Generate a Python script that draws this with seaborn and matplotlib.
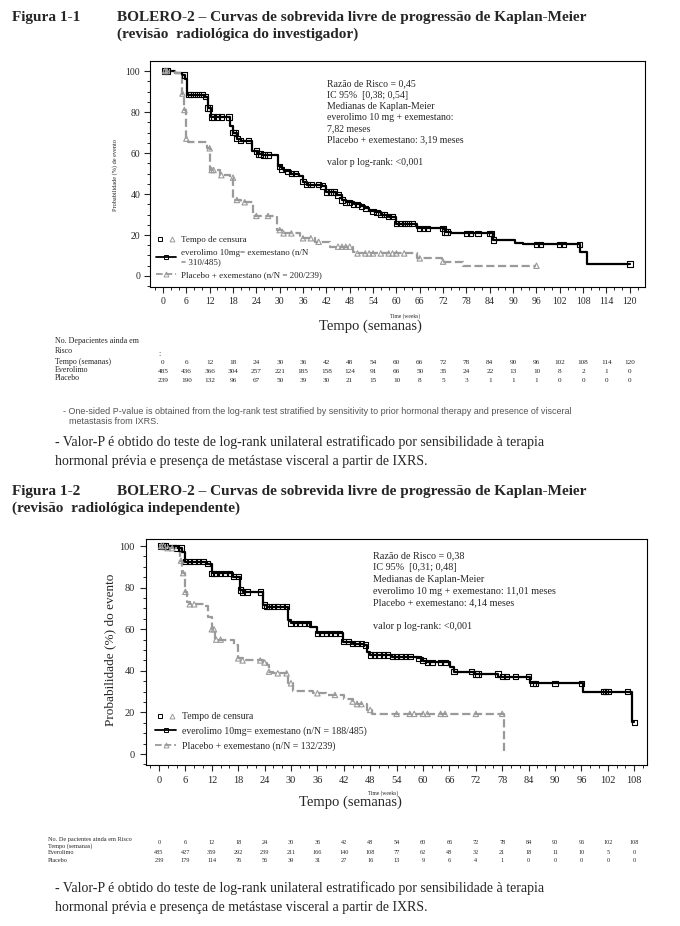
import numpy as np
import pandas as pd
import matplotlib
matplotlib.use("Agg")
import matplotlib.pyplot as plt
import seaborn as sns
from matplotlib.lines import Line2D
from matplotlib.legend_handler import HandlerTuple
from matplotlib.ticker import MultipleLocator
import matplotlib.transforms as mtransforms

# ---------------- data ----------------
# Figure 1-1 (investigator review)
top_evero_t = [0, 3, 5, 5.6, 6.2, 10.8, 11.5, 12.3, 17.2, 18, 19, 20, 23, 24.5, 25.5, 29.6, 30.5, 31,
               33, 35, 36, 37, 41, 42, 44.5, 46, 47, 49, 51, 52, 53, 54.5, 56, 58, 60, 65.2, 72.5, 74,
               84.9, 90.5, 92.6, 107.2, 108.9, 120]
top_evero_s = [100, 99, 98, 96, 88.5, 87.5, 82, 77.5, 73, 70, 67, 66, 61, 59.5, 59, 53.5, 52, 51,
               50, 49, 46, 44.5, 44, 41, 39.5, 37, 36, 35, 34, 33, 31.5, 31, 30, 29, 25.5, 23.2, 21.5, 20.8,
               17.6, 16.3, 15.4, 11.9, 5.9, 5.9]
top_evero_cens = [0.5, 1, 5.5, 6.5, 7, 8, 9, 10, 11, 11.5, 12, 12.5, 13, 14, 15, 17, 18, 18.5, 19, 20,
                  22, 24, 24.5, 25, 26, 27, 30, 30.5, 32, 33, 34, 36, 37, 38, 40, 41, 42, 43, 44, 45,
                  46, 47, 48, 49, 50, 51, 52, 54, 55, 56, 57, 58, 59, 60, 61, 62, 63, 64, 66, 67, 68,
                  72, 72.5, 73, 78, 79, 81, 84, 84.5, 85, 96, 97, 102, 103, 107, 120]
top_plac_t = [0, 3, 4.8, 5.3, 5.8, 6.5, 11.2, 12.1, 14.6, 17.2, 18.1, 20, 23.2, 29.2, 31, 35.2, 39,
              42.9, 48.9, 50, 65.2, 71.6, 77.2, 96]
top_plac_s = [100, 99, 89, 81, 67, 65.5, 62.3, 51.7, 49.2, 48, 37.1, 36, 29.3, 22.4, 20.8, 18.4, 16.7,
              14.3, 11.9, 11, 8.6, 7, 5, 5]
top_plac_cens = [0.5, 1, 5, 5.5, 6, 12, 12.5, 13, 15, 18, 19, 21, 24, 27, 30, 31, 33, 36, 38, 40, 45,
                 46, 47, 48, 50, 52, 53, 54, 56, 58, 59, 60, 62, 66, 72, 96]
top_weeks = [0, 6, 12, 18, 24, 30, 36, 42, 48, 54, 60, 66, 72, 78, 84, 90, 96, 102, 108, 114, 120]
top_risk_evero = [485, 436, 366, 304, 257, 221, 185, 158, 124, 91, 66, 50, 35, 24, 22, 13, 10, 8, 2, 1, 0]
top_risk_plac = [239, 190, 132, 96, 67, 50, 39, 30, 21, 15, 10, 8, 5, 3, 1, 1, 1, 0, 0, 0, 0]

# Figure 1-2 (independent review)
bot_evero_t = [0, 4, 5.2, 5.9, 10.8, 12, 16.9, 18.4, 19, 23.7, 24.5, 29.4, 30, 34.3, 36, 41.9, 44,
               46.5, 47.2, 48, 53, 58.9, 60, 61, 66.1, 67, 71.8, 77.1, 84.3, 96.4, 107.4, 108]
bot_evero_s = [100, 99, 97, 92.5, 91.5, 86.9, 85.3, 78.8, 78, 71.6, 70.8, 64.4, 62.8, 60.9, 58, 54, 53,
               52.4, 49.2, 47.6, 46.8, 46, 44.9, 44.1, 42, 39.6, 38.5, 37.2, 34, 30, 15.2, 15.2]
bot_evero_cens = [0.5, 1, 1.5, 4, 5, 6, 7, 8, 9, 10, 11, 12, 12.5, 13, 14, 15, 16, 17, 18, 18.5, 19,
                  20, 23, 24, 24.5, 25, 26, 27, 28, 29, 30, 31, 32, 33, 34, 36, 37, 38, 39, 40, 41, 42,
                  43, 44, 45, 46, 47, 48, 49, 50, 51, 52, 53, 54, 55, 56, 57, 59, 60, 61, 62, 64, 65,
                  67, 71, 72, 72.5, 77, 78, 79, 81, 84, 85, 85.5, 90, 96, 101, 101.5, 102, 106.5, 108]
bot_plac_t = [0, 1.75, 4, 4.8, 5.3, 5.9, 6.4, 7, 10.5, 11.2, 12, 12.7, 17, 18, 19, 23.7, 24.5, 25, 26,
              29.4, 30.5, 35.1, 38, 42, 44, 45, 47.3, 48.3, 78.3]
bot_plac_s = [100, 99, 98, 93, 87, 78, 73, 72, 71, 66, 60, 55, 52.4, 46, 45, 44, 43, 39.6, 38.8,
              34, 30.4, 29.2, 28.4, 26.3, 25.2, 24, 21.2, 19.3, 0]
bot_plac_cens = [0.5, 1, 2, 3, 5, 5.5, 6, 7, 8, 12, 12.5, 13, 14, 18, 19, 23, 24, 25, 27, 29, 30, 36,
                 40, 44, 45, 46, 48, 54, 57, 58, 60, 61, 64, 65, 72, 78]
bot_weeks = [0, 6, 12, 18, 24, 30, 36, 42, 48, 54, 60, 66, 72, 78, 84, 90, 96, 102, 108]
bot_risk_evero = [485, 427, 359, 292, 239, 211, 166, 140, 108, 77, 62, 48, 32, 21, 18, 11, 10, 5, 0]
bot_risk_plac = [239, 179, 114, 76, 56, 39, 31, 27, 16, 13, 9, 6, 4, 1, 0, 0, 0, 0, 0]

# ---------------- styling ----------------
sns.set_style("ticks")
plt.rcParams['font.family'] = ['Liberation Serif', 'DejaVu Serif']
plt.rcParams['axes.linewidth'] = 0.8

W, H = 680, 926
fig = plt.figure(figsize=(W / 100, H / 100), dpi=100)
fig.patch.set_facecolor("white")

BLACK = "#000000"
GRAY = "#9a9a9a"


def ftext(x, y, s, **kw):
    kw.setdefault("va", "center")
    kw.setdefault("ha", "left")
    fig.text(x / W, 1 - y / H, s, **kw)


def step_at(t, s, c):
    idx = np.searchsorted(np.asarray(t), c, side="right") - 1
    return np.asarray(s)[idx]


def km_panel(rect_px, xlim, ylim, xmax, curves, tick_fs, pad):
    l, t, r, b = rect_px
    ax = fig.add_axes([l / W, 1 - b / H, (r - l) / W, (b - t) / H])
    for (tt, ss, cens, color, ls, marker) in curves:
        df = pd.DataFrame({"t": tt, "s": ss})
        sns.lineplot(data=df, x="t", y="s", ax=ax, color=color, linestyle=ls, linewidth=1.6,
                     drawstyle="steps-post", estimator=None, sort=False)
        cdf = pd.DataFrame({"t": cens, "s": step_at(tt, ss, cens)})
        sns.scatterplot(data=cdf, x="t", y="s", ax=ax, marker=marker, s=15, color=color,
                        facecolor="none", edgecolor=color, linewidth=0.8, zorder=3)
    ax.set_xlim(*xlim)
    ax.set_ylim(*ylim)
    ax.set_xticks(np.arange(0, xmax + 1, 6))
    ax.set_yticks(np.arange(0, 101, 20))
    ax.xaxis.set_minor_locator(MultipleLocator(2))
    ax.yaxis.set_minor_locator(MultipleLocator(5))
    ax.tick_params(which="major", length=4, width=0.8, labelsize=tick_fs, direction="out", pad=pad)
    ax.tick_params(which="minor", length=2.5, width=0.7, direction="out")
    ax.set_xlabel("")
    ax.set_ylabel("")
    for sp in ax.spines.values():
        sp.set_visible(True)
        sp.set_color("black")
    return ax


def legend_for(ax, evero_label, plac_label, fs, anchor, spacing):
    cens_sq = Line2D([], [], ls="none", marker="s", ms=3.5, mfc="none", mec=BLACK, mew=0.7)
    cens_tr = Line2D([], [], ls="none", marker="^", ms=3.5, mfc="none", mec=GRAY, mew=0.7)
    h_ev = Line2D([], [], color=BLACK, lw=1.3, marker="s", ms=3.5, mfc="none", mec=BLACK, mew=0.7)
    h_pl = Line2D([], [], color=GRAY, lw=1.3, ls="--", marker="^", ms=3.5, mfc="none", mec=GRAY, mew=0.7)
    ax.legend([(cens_sq, cens_tr), h_ev, h_pl], ["Tempo de censura", evero_label, plac_label],
              handler_map={tuple: HandlerTuple(ndivide=None, pad=0.3)},
              loc="lower left", bbox_to_anchor=anchor, frameon=False, fontsize=fs,
              handlelength=2.2, handletextpad=0.6, labelspacing=spacing, borderaxespad=0)


# ---------------- Figure 1-1 ----------------
title_kw = dict(fontsize=11, fontweight="bold")
ftext(12, 17, "Figura 1-1", **title_kw)
ftext(117, 17, "BOLERO-2 – Curvas de sobrevida livre de progressão de Kaplan-Meier", **title_kw)
ftext(117, 34, "(revisão  radiológica do investigador)", **title_kw)

ax1 = km_panel((150, 61, 645, 287), (-3.34, 123.9), (-5.37, 104.9), 120,
               [(top_evero_t, top_evero_s, top_evero_cens, BLACK, "-", "s"),
                (top_plac_t, top_plac_s, top_plac_cens, GRAY, "--", "^")], 7, 3)
legend_for(ax1, "everolimo 10mg= exemestano (n/N\n= 310/485)",
           "Placebo + exemestano (n/N = 200/239)", 6.5, (0.005, 0.02), 0.5)

ann1 = ["Razão de Risco = 0,45", "IC 95%  [0,38; 0,54]", "Medianas de Kaplan-Meier",
        "everolimo 10 mg + exemestano:", "7,82 meses", "Placebo + exemestano: 3,19 meses", "",
        "valor p log-rank: <0,001"]
for i, line in enumerate(ann1):
    ftext(327, 84 + i * 11.2, line, fontsize=7)

ftext(115, 175, "Probabilidade (%) de evento", fontsize=4.5, rotation=90, ha="center")
ftext(405, 316, "Time (weeks)", fontsize=4, ha="center")
ftext(370, 326, "Tempo (semanas)", fontsize=10.5, ha="center")

# risk table 1
tab_fs = 5.8
ftext(55, 341, "No. Depacientes ainda em", fontsize=tab_fs)
ftext(55, 351, "Risco", fontsize=tab_fs)
ftext(158, 354, ":", fontsize=tab_fs)
ftext(55, 362, "Tempo (semanas)", fontsize=tab_fs)
ftext(55, 370, "Everolimo", fontsize=tab_fs)
ftext(55, 378, "Placebo", fontsize=tab_fs)
tr1 = mtransforms.blended_transform_factory(ax1.transData, fig.transFigure)
for wk, e, p in zip(top_weeks, top_risk_evero, top_risk_plac):
    ax1.text(wk, 1 - 363 / H, str(wk), transform=tr1, ha="center", va="center", fontsize=5.2)
    ax1.text(wk, 1 - 372 / H, str(e), transform=tr1, ha="center", va="center", fontsize=5.2)
    ax1.text(wk, 1 - 380 / H, str(p), transform=tr1, ha="center", va="center", fontsize=5.2)

ftext(63, 411, "- One-sided P-value is obtained from the log-rank test stratified by sensitivity to prior "
      "hormonal therapy and presence of visceral", fontsize=6.5, color="#555555", family="Liberation Sans")
ftext(69, 421, "metastasis from IXRS.", fontsize=6.5, color="#555555", family="Liberation Sans")

foot_fs = 10
ftext(55, 442, "- Valor-P é obtido do teste de log-rank unilateral estratificado por sensibilidade à terapia",
      fontsize=foot_fs)
ftext(55, 461, "hormonal prévia e presença de metástase visceral a partir de IXRS.", fontsize=foot_fs)

# ---------------- Figure 1-2 ----------------
ftext(12, 492, "Figura 1-2", **title_kw)
ftext(117, 492, "BOLERO-2 – Curvas de sobrevida livre de progressão de Kaplan-Meier", **title_kw)
ftext(12, 508, "(revisão  radiológica independente)", **title_kw)

ax2 = km_panel((146, 539, 647, 765), (-2.95, 110.9), (-5.29, 103.4), 108,
               [(bot_evero_t, bot_evero_s, bot_evero_cens, BLACK, "-", "s"),
                (bot_plac_t, bot_plac_s, bot_plac_cens, GRAY, "--", "^")], 7.5, 4)
legend_for(ax2, "everolimo 10mg= exemestano (n/N = 188/485)",
           "Placebo + exemestano (n/N = 132/239)", 7, (0.01, 0.045), 0.55)

ann2 = ["Razão de Risco = 0,38", "IC 95%  [0,31; 0,48]", "Medianas de Kaplan-Meier",
        "everolimo 10 mg + exemestano: 11,01 meses", "Placebo + exemestano: 4,14 meses", "",
        "valor p log-rank: <0,001"]
for i, line in enumerate(ann2):
    ftext(373, 556 + i * 11.8, line, fontsize=7.3)

ftext(110, 650, "Probabilidade (%) do evento", fontsize=9.5, rotation=90, ha="center")
ftext(383, 793, "Time (weeks)", fontsize=4, ha="center")
ftext(350, 802, "Tempo (semanas)", fontsize=10.5, ha="center")

tab2_fs = 4.5
ftext(48, 840, "No. De pacientes ainda em Risco", fontsize=tab2_fs)
ftext(48, 846, "Tempo (semanas)", fontsize=tab2_fs)
ftext(48, 853, "Everolimo", fontsize=tab2_fs)
ftext(48, 860, "Placebo", fontsize=tab2_fs)
tr2 = mtransforms.blended_transform_factory(ax2.transData, fig.transFigure)
for wk, e, p in zip(bot_weeks, bot_risk_evero, bot_risk_plac):
    ax2.text(wk, 1 - 843 / H, str(wk), transform=tr2, ha="center", va="center", fontsize=tab2_fs)
    ax2.text(wk, 1 - 853 / H, str(e), transform=tr2, ha="center", va="center", fontsize=tab2_fs)
    ax2.text(wk, 1 - 860 / H, str(p), transform=tr2, ha="center", va="center", fontsize=tab2_fs)

ftext(55, 888, "- Valor-P é obtido do teste de log-rank unilateral estratificado por sensibilidade à terapia",
      fontsize=foot_fs)
ftext(55, 907, "hormonal prévia e presença de metástase visceral a partir de IXRS.", fontsize=foot_fs)

fig.savefig("out.png", dpi=100, facecolor="white")
